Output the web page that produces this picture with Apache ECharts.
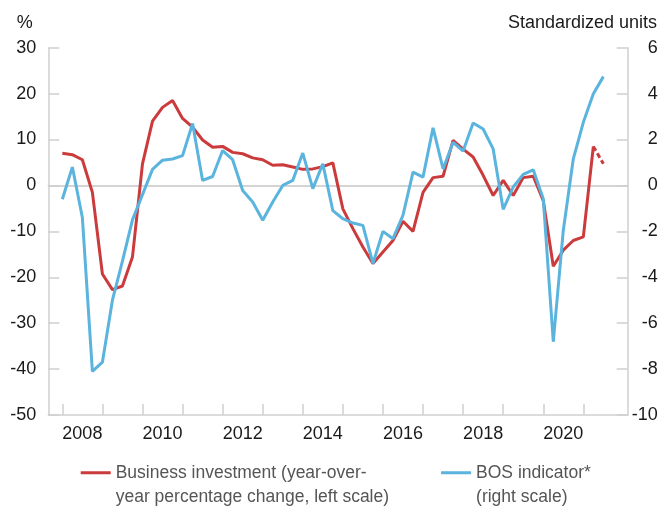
<!DOCTYPE html>
<html>
<head>
<meta charset="utf-8">
<script src="https://cdn.jsdelivr.net/npm/echarts@6/dist/echarts.min.js"></script>
<style>
  html, body { margin: 0; padding: 0; background: #fff; }
  #chart { width: 662px; height: 508px; }
</style>
</head>
<body>
<div id="chart"></div>
<script>
// quarters, 2008Q1 .. 2021Q3
const quarters = [
  '2008Q1', '2008Q2', '2008Q3', '2008Q4', '2009Q1', '2009Q2', '2009Q3', '2009Q4',
  '2010Q1', '2010Q2', '2010Q3', '2010Q4', '2011Q1', '2011Q2', '2011Q3', '2011Q4',
  '2012Q1', '2012Q2', '2012Q3', '2012Q4', '2013Q1', '2013Q2', '2013Q3', '2013Q4',
  '2014Q1', '2014Q2', '2014Q3', '2014Q4', '2015Q1', '2015Q2', '2015Q3', '2015Q4',
  '2016Q1', '2016Q2', '2016Q3', '2016Q4', '2017Q1', '2017Q2', '2017Q3', '2017Q4',
  '2018Q1', '2018Q2', '2018Q3', '2018Q4', '2019Q1', '2019Q2', '2019Q3', '2019Q4',
  '2020Q1', '2020Q2', '2020Q3', '2020Q4', '2021Q1', '2021Q2', '2021Q3',
]

// business investment, y/y % change (left scale); last point is a projection
const businessInvestment = [
  7.0, 6.7, 5.6, -1.5, -19.3, -22.7, -21.9, -15.6,
  4.7, 14.0, 17.0, 18.5, 14.6, 12.7, 9.9, 8.3,
  8.5, 7.2, 6.9, 6.0, 5.6, 4.4, 4.5, 4.0,
  3.5, 3.6, 4.1, 4.9, -5.1, -9.4, -13.4, -17.0,
  -14.5, -12.0, -7.8, -10.0, -1.5, 1.7, 2.0, 9.8,
  7.9, 6.2, 2.2, -2.2, 1.1, -2.2, 1.7, 2.0,
  -3.3, -17.6, -14.1, -12.0, -11.2, 8.5, 4.7,
]
const projectedFrom = 53  // dashed from this index on

// BOS indicator, standardized units (right scale)
const bosIndicator = [
  -0.6, 0.8, -1.4, -8.1, -7.7, -5.0, -3.3, -1.5,
  -0.4, 0.7, 1.1, 1.15, 1.3, 2.7, 0.22, 0.39,
  1.52, 1.12, -0.22, -0.72, -1.52, -0.72, 0.0, 0.22,
  1.41, -0.14, 0.94, -1.1, -1.45, -1.64, -1.74, -3.4,
  -2.0, -2.32, -1.3, 0.58, 0.36, 2.51, 0.72, 1.88,
  1.5, 2.72, 2.46, 1.59, -1.04, -0.07, 0.48, 0.68,
  -0.58, -6.81, -1.96, 1.16, 2.75, 3.99, 4.74,
]

const yearTicks = [2008, 2009, 2010, 2011, 2012, 2013, 2014, 2015, 2016, 2017, 2018, 2019, 2020, 2021]
const yearLabels = [2008, 2010, 2012, 2014, 2016, 2018, 2020]

const RED = '#cc3b3c'
const BLUE = '#5ab4de'
const AXIS = '#cfcfcf'
const FONT = '"Liberation Sans", Arial, sans-serif'

// quarter label -> position on the year axis
const qx = q => Number(q.slice(0, 4)) + (Number(q.slice(5)) - 1) / 4

const biSolid = quarters.map((q, i) => [qx(q), i <= projectedFrom ? businessInvestment[i] : null])
const biProjected = quarters.map((q, i) => [qx(q), i >= projectedFrom ? businessInvestment[i] : null])
const bos = quarters.map((q, i) => [qx(q), bosIndicator[i]])

const X_MIN = 2007.65
const X_MAX = 2022.107

const chart = echarts.init(document.getElementById('chart'), null, { renderer: 'canvas' })

const option = {
  backgroundColor: '#fff',
  animation: false,
  textStyle: { fontFamily: FONT },
  grid: { left: 48.3, right: 34.3, top: 47.7, bottom: 93, containLabel: false },
  xAxis: [
    {
      type: 'value',
      min: X_MIN,
      max: X_MAX,
      position: 'bottom',
      axisLine: { onZero: false, lineStyle: { color: AXIS, width: 1.5 } },
      axisTick: {
        inside: true,
        length: 11,
        customValues: yearTicks,
        lineStyle: { color: AXIS, width: 1.5 },
      },
      axisLabel: {
        customValues: yearLabels.map(y => y + 0.5),
        formatter: v => String(Math.floor(v)),
        color: '#1a1a1a',
        fontSize: 18,
        fontFamily: FONT,
        margin: 10,
      },
      splitLine: { show: false },
    },
    {
      // zero line of the left scale
      type: 'value',
      min: X_MIN,
      max: X_MAX,
      axisLine: { onZero: true, onZeroAxisIndex: 0, lineStyle: { color: '#c6c6c6', width: 1.5 } },
      axisTick: { show: false },
      axisLabel: { show: false },
      splitLine: { show: false },
    },
  ],
  yAxis: [
    {
      type: 'value',
      min: -50,
      max: 30,
      interval: 10,
      position: 'left',
      axisLine: { show: true, lineStyle: { color: AXIS, width: 1.5 } },
      axisTick: { show: true, inside: true, length: 11, lineStyle: { color: AXIS, width: 1.5 } },
      axisLabel: { color: '#1a1a1a', fontSize: 18, fontFamily: FONT, margin: 12 },
      splitLine: { show: false },
    },
    {
      type: 'value',
      min: -10,
      max: 6,
      interval: 2,
      position: 'right',
      axisLine: { show: true, lineStyle: { color: AXIS, width: 1.5 } },
      axisTick: { show: true, inside: true, length: 11, lineStyle: { color: AXIS, width: 1.5 } },
      axisLabel: { color: '#1a1a1a', fontSize: 18, fontFamily: FONT, margin: 30, align: 'right' },
      splitLine: { show: false },
    },
  ],
  graphic: [
    {
      type: 'text', x: 16.7, y: 22.7,
      style: { text: '%', fill: '#1a1a1a', font: '18px ' + FONT, align: 'left', verticalAlign: 'middle' },
    },
    {
      type: 'text', x: 657, y: 22.7,
      style: { text: 'Standardized units', fill: '#1a1a1a', font: '18px ' + FONT, align: 'right', verticalAlign: 'middle' },
    },
  ],
  legend: {
    data: ['Business investment', 'BOS indicator'],
    left: 80.7,
    top: 460.7,
    padding: 0,
    itemGap: 52,
    itemWidth: 30,
    itemHeight: 27,
    // line drawn at the top of the icon box so it lines up with the first text row
    icon: 'path://M0,0H30V3H0Z M29.99,26.99H30V27H29.99Z',
    selectedMode: false,
    formatter: name => name === 'Business investment'
      ? 'Business investment (year-over-\nyear percentage change, left scale)'
      : 'BOS indicator*\n(right scale)',
    textStyle: { color: '#555', fontSize: 17.5, lineHeight: 24, fontFamily: FONT, padding: [0, 0, 0, 0] },
    itemStyle: { borderWidth: 0 },
  },
  series: [
    {
      name: 'Business investment',
      type: 'line',
      xAxisIndex: 0,
      yAxisIndex: 0,
      data: biSolid,
      showSymbol: false,
      symbol: 'none',
      color: RED,
      lineStyle: { color: RED, width: 3 },
      z: 3,
    },
    {
      name: 'Business investment (projection)',
      type: 'line',
      xAxisIndex: 0,
      yAxisIndex: 0,
      data: biProjected,
      showSymbol: false,
      symbol: 'none',
      color: RED,
      lineStyle: { color: RED, width: 3, type: [5, 3] },
      z: 3,
    },
    {
      name: 'BOS indicator',
      type: 'line',
      xAxisIndex: 0,
      yAxisIndex: 1,
      data: bos,
      showSymbol: false,
      symbol: 'none',
      color: BLUE,
      lineStyle: { color: BLUE, width: 3 },
      z: 4,
    },
  ],
}

chart.setOption(option)
</script>
</body>
</html>
